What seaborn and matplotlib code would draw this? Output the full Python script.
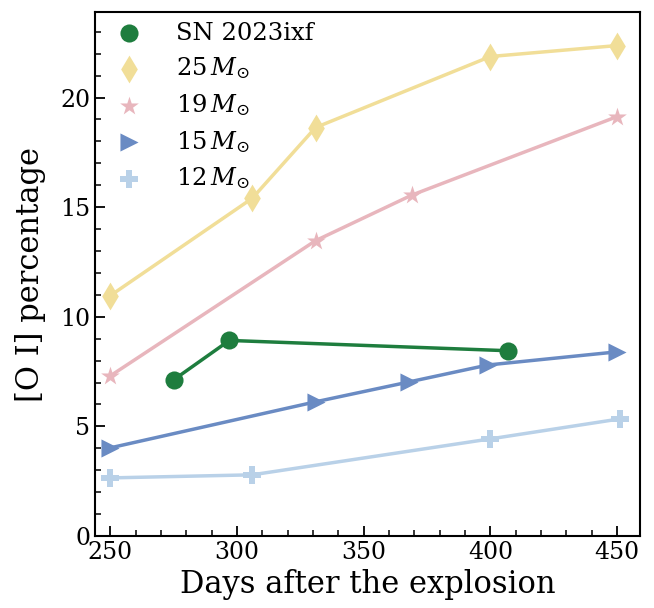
import matplotlib
matplotlib.use("Agg")
import matplotlib.pyplot as plt
import seaborn as sns
import pandas as pd

sns.set_style("white")
plt.rcParams['font.family'] = ['DejaVu Serif']
plt.rcParams['mathtext.fontset'] = 'dejavuserif'
plt.rcParams['text.color'] = 'black'
plt.rcParams['axes.labelcolor'] = 'black'
plt.rcParams['xtick.color'] = 'black'
plt.rcParams['ytick.color'] = 'black'

sn_days = [275, 297, 407]
sn_vals = [7.12, 8.92, 8.45]

m25_days = [250, 306, 331, 400, 450]
m25_vals = [10.96, 15.40, 18.63, 21.87, 22.37]

m19_days = [250, 331, 369, 450]
m19_vals = [7.30, 13.47, 15.55, 19.13]

m15_days = [250, 331, 368, 399, 450]
m15_vals = [4.02, 6.12, 7.03, 7.80, 8.40]

m12_days = [250, 306, 400, 451]
m12_vals = [2.65, 2.79, 4.43, 5.34]

series = [
    ("SN 2023ixf", sn_days, sn_vals, "#1e7d3e", "o", 170),
    (r"$25\,M_{\odot}$", m25_days, m25_vals, "#f1de98", "d", 200),
    (r"$19\,M_{\odot}$", m19_days, m19_vals, "#e8b6bd", "*", 200),
    (r"$15\,M_{\odot}$", m15_days, m15_vals, "#6a8bc3", ">", 170),
    (r"$12\,M_{\odot}$", m12_days, m12_vals, "#b9d1e8", "P", 170),
]

fig = plt.figure(figsize=(6.54, 6.08), dpi=100)
ax = fig.add_axes([95/654, 1 - 536/608, (640-95)/654, (536-12)/608])

for i, (lab, xs, ys, col, mk, s) in enumerate(series):
    df = pd.DataFrame({"x": xs, "y": ys})
    sns.lineplot(data=df, x="x", y="y", color=col, lw=2.5, ax=ax, zorder=2 + i, legend=False)
    sns.scatterplot(data=df, x="x", y="y", color=col, marker=mk, s=s, ax=ax,
                    edgecolor=col, linewidth=0, label=lab, zorder=3 + i)

ax.set_xlim(244, 459)
ax.set_ylim(0, 23.9)
ax.set_xticks([250, 300, 350, 400, 450])
ax.set_yticks([0, 5, 10, 15, 20])
ax.set_xticks(range(250, 460, 10), minor=True)
ax.set_yticks(range(0, 24), minor=True)
ax.tick_params(axis='both', which='major', direction='in', length=7, width=1.3,
               labelsize=17, top=False, right=False, bottom=True, left=True)
ax.tick_params(axis='both', which='minor', direction='in', length=4, width=1.1,
               top=False, right=False, bottom=True, left=True)
for sp in ax.spines.values():
    sp.set_linewidth(1.5)
    sp.set_color('black')

ax.set_xlabel("Days after the explosion", fontsize=22, labelpad=4)
ax.set_ylabel("[O I] percentage", fontsize=22, labelpad=10)

leg = ax.legend(loc='upper left', frameon=False, fontsize=17.5, handletextpad=0.95,
                labelspacing=0.44, borderaxespad=0.05, borderpad=0.35)

fig.savefig("out.png", dpi=100)
